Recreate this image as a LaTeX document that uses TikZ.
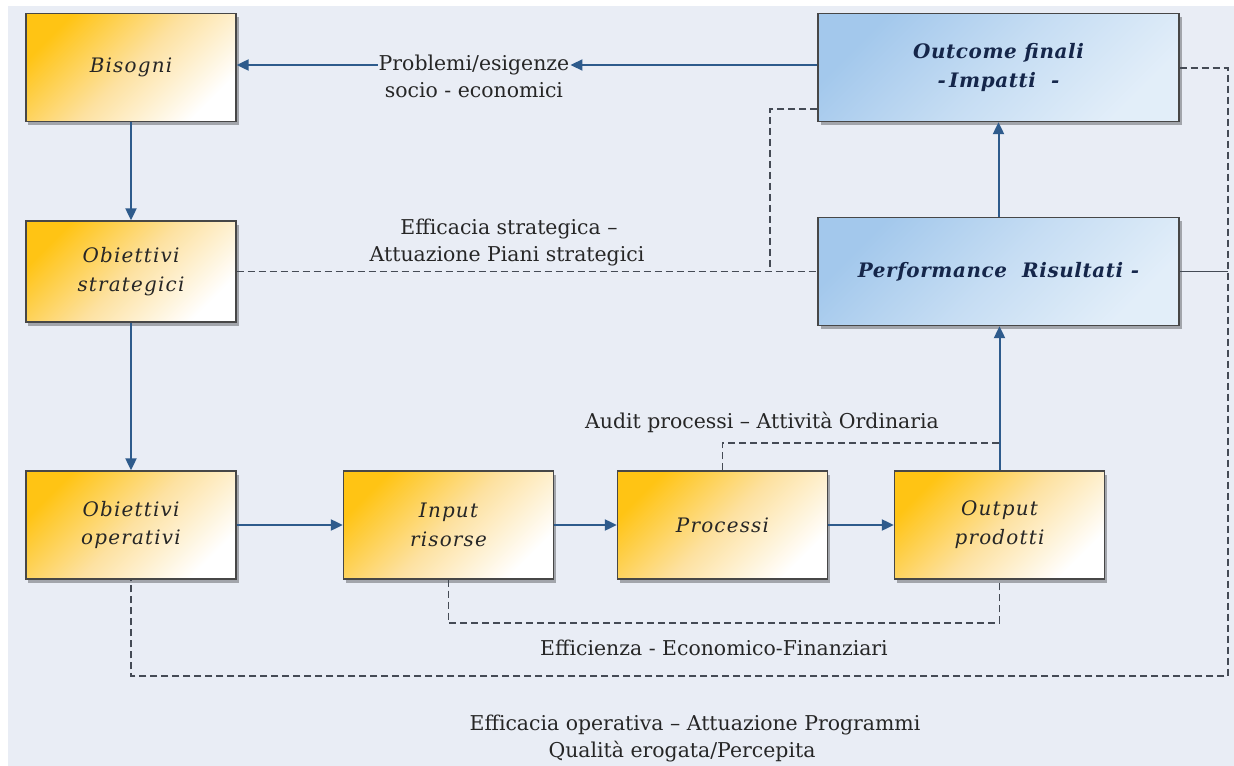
\documentclass[tikz,border=0pt]{standalone}
\usepackage{fontspec}
\setmainfont{DejaVu Serif}
\newfontfamily\boxfont[LetterSpace=6]{DejaVu Serif}
\newfontfamily\bluefont[LetterSpace=3]{DejaVu Serif}
\usetikzlibrary{arrows.meta,shadows,calc}
\definecolor{bg}{HTML}{E9EDF5}
\definecolor{gold}{HTML}{FFC414}
\definecolor{cream}{HTML}{FDE1A0}
\definecolor{sky}{HTML}{A3C8EC}
\definecolor{skylight}{HTML}{E2EEF9}
\definecolor{arrowblue}{HTML}{2E5B8C}
\definecolor{dashgray}{HTML}{454B55}
\definecolor{boxborder}{HTML}{474747}
\definecolor{txt}{HTML}{262626}
\definecolor{navy}{HTML}{15264A}
\tikzset{
  basebox/.style={draw=boxborder, line width=1.3bp, align=center, inner sep=0pt,
    drop shadow={shadow xshift=2.5bp, shadow yshift=-3.5bp, fill=black, opacity=0.3}},
  ybox/.style={basebox, minimum width=210bp, minimum height=108bp,
    top color=gold, bottom color=white, middle color=cream, shading angle=45,
    text=txt, font=\boxfont\itshape\fontsize{20}{29}\selectfont},
  bbox/.style={basebox, minimum width=361bp, minimum height=108bp,
    top color=sky, bottom color=skylight, middle color=sky!45!skylight, shading angle=45,
    text=navy, font=\bluefont\bfseries\itshape\fontsize{20}{29}\selectfont},
  lbl/.style={text=txt, font=\fontsize{20.5}{27}\selectfont, align=center, inner sep=1bp},
  arr/.style={draw=arrowblue, line width=2bp, -{Triangle[length=12bp,width=11bp]}},
  dsh/.style={draw=dashgray, line width=1.8bp, dash pattern=on 7bp off 4bp},
  thinline/.style={draw=dashgray, line width=1.4bp}
}
\begin{document}
\begin{tikzpicture}[x=1bp,y=-1bp]
\useasboundingbox (0,0) rectangle (1234,766);
\fill[white] (0,0) rectangle (1234,766);
\fill[bg] (8,6) rectangle (1234,766);

% boxes
\node[ybox] (bis)  at (131,67.5) {Bisogni};
\node[ybox, minimum height=101bp] (ostr) at (131,271.5) {Obiettivi\\strategici};
\node[ybox] (oop)  at (131,525) {Obiettivi\\operativi};
\node[ybox] (inp)  at (448.5,525) {Input\\risorse};
\node[ybox] (proc) at (722.5,525) {Processi};
\node[ybox] (outp) at (999.5,525) {Output\\prodotti};
\node[bbox] (outc) at (998.5,67.5) {Outcome finali\\-\,Impatti\ \ -};
\node[bbox] (perf) at (998.5,271.5) {Performance\ \ Risultati -};

% labels
\node[lbl] (probA) at (474,65) {Problemi/esigenze};
\node[lbl] (probB) at (474,90) {socio - economici};
\node[lbl] (esA) at (509,229) {Efficacia strategica –};
\node[lbl] (esB) at (507,256) {Attuazione Piani strategici};
\node[lbl] (aud) at (762,422) {Audit processi – Attività Ordinaria};
\node[lbl] (eff) at (714,648) {Efficienza - Economico-Finanziari};
\node[lbl] (eoA) at (695,725) {Efficacia operativa – Attuazione Programmi};
\node[lbl] (eoB) at (682,752) {Qualità erogata/Percepita};

% coordinates
\coordinate (j1) at (770,271.5);
\coordinate (rt) at (1228,68);
\coordinate (rb) at (1228,676);
\coordinate (ef) at (999.5,623);
\coordinate (au) at (999.5,443);

% dashed connectors
\draw[dsh] (ostr.east) -- (perf.west);
\draw[dsh] ($(outc.south west)+(0,-13)$) -| (j1);
\draw[dsh] (outc.east |- rt) -- (rt) -- (rb) -| (oop.south);
\draw[thinline] (perf.east) -- (perf.east -| rt);
\draw[dsh] (inp.south) |- (ef) -- (outp.south);
\draw[dsh] (proc.north) |- (au);

% solid arrows
\draw[arr] (bis.south) -- (ostr.north);
\draw[arr] (ostr.south) -- (oop.north);
\draw[arr] (oop.east) -- (inp.west);
\draw[arr] (inp.east) -- (proc.west);
\draw[arr] (proc.east) -- (outp.west);
\draw[arr] (outp.north) -- (outp.north |- perf.south);
\draw[arr] (perf.north) -- (outc.south);
\draw[arr] (probA.east -| outc.west) -- (probA.east);
\draw[arr] (probA.west) -- (probA.west -| bis.east);
\end{tikzpicture}
\end{document}
